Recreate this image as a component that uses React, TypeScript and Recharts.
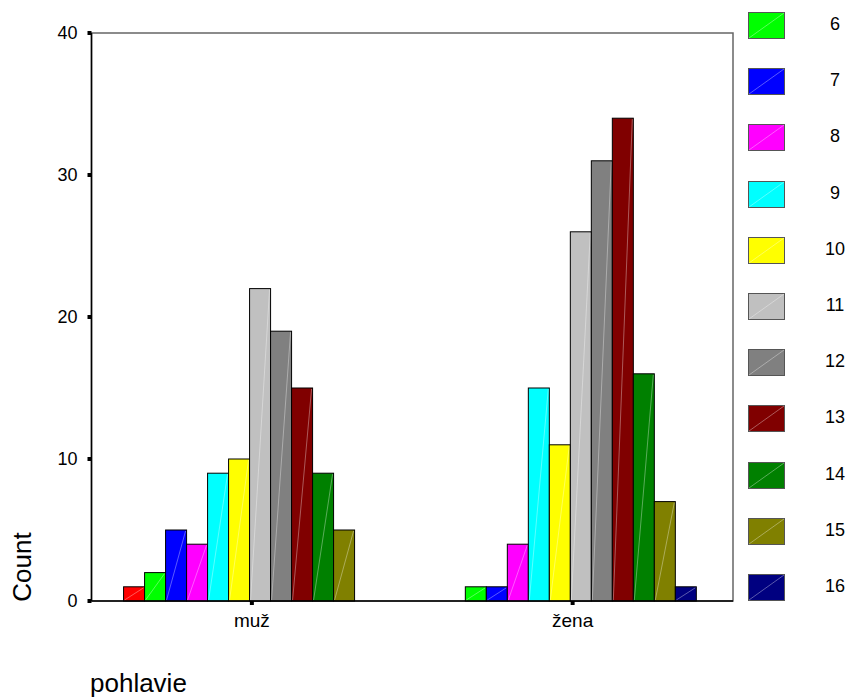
import { Bar, BarChart, ReferenceArea, XAxis, YAxis } from "recharts";

const categories = ["muž", "žena"];
const ages = ["5", "6", "7", "8", "9", "10", "11", "12", "13", "14", "15", "16"];
const muzCounts = [1, 2, 5, 4, 9, 10, 22, 19, 15, 9, 5, 0];
const zenaCounts = [0, 1, 1, 4, 15, 11, 26, 31, 34, 16, 7, 1];
const colors = [
  "#FF0000", "#00FF00", "#0000FF", "#FF00FF", "#00FFFF", "#FFFF00",
  "#C0C0C0", "#808080", "#800000", "#008000", "#808000", "#000080",
];
const legendAges = ["6", "7", "8", "9", "10", "11", "12", "13", "14", "15", "16"];
const yTicks = [0, 10, 20, 30, 40];

const counts = [muzCounts, zenaCounts];
const data = categories.map((name, i) => {
  const row: Record<string, string | number> = { name };
  ages.forEach((age, j) => {
    row[age] = counts[i][j];
  });
  return row;
});

const font = "Arial, 'Liberation Sans', sans-serif";

function SpssBar(props: any) {
  const { x, y, width, height, fill } = props;
  if (!height || height <= 0) return null;
  return (
    <g>
      <rect x={x} y={y} width={width} height={height} fill={fill} stroke="#000" strokeWidth={1} />
      <line
        x1={x + 1}
        y1={y + height - 1}
        x2={x + width - 1}
        y2={y + 1}
        stroke="rgba(255,255,255,0.35)"
        strokeWidth={1}
      />
    </g>
  );
}

function AgeLegend() {
  return (
    <div style={{ position: "absolute", left: 748, top: 12, width: 110, height: 620, fontFamily: font }}>
      {legendAges.map((age, i) => (
        <div key={age}>
          <svg
            width={37}
            height={27}
            style={{ position: "absolute", left: 0, top: i * 56.2 }}
          >
            <rect x={0.5} y={0.5} width={36} height={26} fill={colors[i + 1]} stroke="#555" />
            <line x1={1} y1={26} x2={36} y2={1} stroke="rgba(255,255,255,0.35)" />
          </svg>
          <span
            style={{
              position: "absolute",
              left: 67,
              width: 40,
              top: i * 56.2 + 2,
              textAlign: "center",
              fontSize: 18,
              color: "#000",
            }}
          >
            {age}
          </span>
        </div>
      ))}
    </div>
  );
}

export default function App() {
  return (
    <div style={{ position: "absolute", left: 0, top: 0, width: 849, height: 698, background: "#fff" }}>
      <BarChart
        width={849}
        height={698}
        data={data}
        margin={{ top: 33, right: 116, bottom: 57, left: 30 }}
        barCategoryGap="10%"
        barGap={0}
      >
        <ReferenceArea y1={0} y2={40} fill="none" stroke="#666" strokeWidth={1.5} fillOpacity={0} />
        <XAxis
          dataKey="name"
          tick={{ fill: "#000", fontSize: 19, fontFamily: font }}
          axisLine={{ stroke: "#000", strokeWidth: 1.5 }}
          tickLine={{ stroke: "#000", strokeWidth: 4 }}
          tickSize={4}
          tickMargin={9}
          height={40}
        />
        <YAxis
          domain={[0, 40]}
          ticks={yTicks}
          width={61.5}
          tick={{ fill: "#000", fontSize: 18, fontFamily: font }}
          axisLine={{ stroke: "#000", strokeWidth: 1.5 }}
          tickLine={{ stroke: "#000", strokeWidth: 4 }}
          tickSize={4}
          tickMargin={10}
          interval={0}
        />
        {ages.map((age, i) => (
          <Bar
            key={age}
            dataKey={age}
            fill={colors[i]}
            shape={<SpssBar />}
            isAnimationActive={false}
          />
        ))}
      </BarChart>
      <AgeLegend />
      <div
        style={{
          position: "absolute",
          left: 22,
          top: 567,
          transform: "translate(-50%, -50%) rotate(-90deg)",
          fontFamily: font,
          fontSize: 26,
          whiteSpace: "nowrap",
        }}
      >
        Count
      </div>
      <div
        style={{
          position: "absolute",
          left: 90,
          top: 668,
          fontFamily: font,
          fontSize: 26,
          whiteSpace: "nowrap",
        }}
      >
        pohlavie
      </div>
    </div>
  );
}
